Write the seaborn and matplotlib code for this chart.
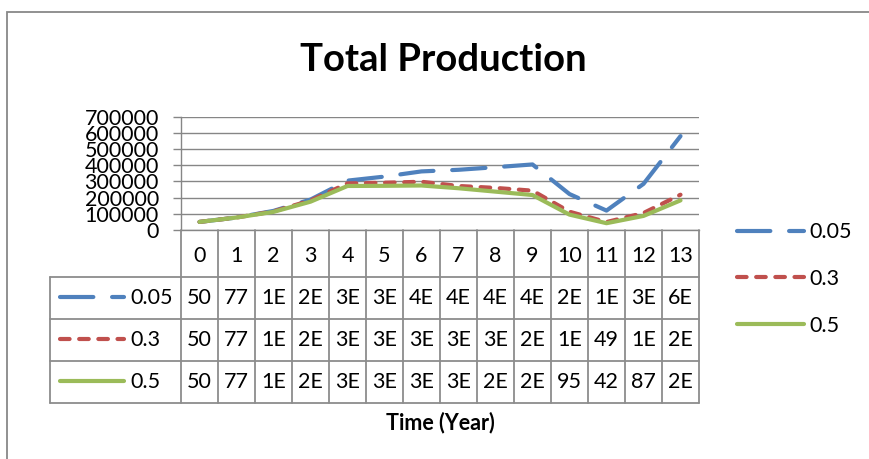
import numpy as np
import pandas as pd
import matplotlib
matplotlib.use("Agg")
import matplotlib.pyplot as plt
from matplotlib.lines import Line2D
from matplotlib.patches import Rectangle
import matplotlib.transforms as mtransforms
import seaborn as sns

# data
years = list(range(14))
rates = ["0.05", "0.3", "0.5"]
prod_005 = [50000, 77000, 118000, 188000, 305000, 330000, 362000, 372000, 388000, 405000, 222000, 120000, 285000, 580000]
prod_03 = [50000, 77000, 115000, 182000, 288000, 292000, 298000, 272000, 260000, 243000, 113000, 49000, 105000, 218000]
prod_05 = [50000, 77000, 112000, 175000, 272000, 273000, 275000, 258000, 237000, 216000, 95000, 42000, 87000, 183000]
yticks = [0, 100000, 200000, 300000, 400000, 500000, 600000, 700000]

colors = {"0.05": "#4F81BD", "0.3": "#C0504D", "0.5": "#9BBB59"}
dashes = {"0.05": (8, 4.5), "0.3": (2.3, 2.3), "0.5": ""}

df = pd.DataFrame({
    "year": years * 3,
    "value": prod_005 + prod_03 + prod_05,
    "rate": [r for r in rates for _ in years],
})

sns.set_style("white")
plt.rcParams["font.family"] = ["Lato", "DejaVu Sans"]
plt.rcParams["text.color"] = "black"
plt.rcParams["ytick.labelcolor"] = "black"

W, H = 869, 459
fig = plt.figure(figsize=(W / 100, H / 100), dpi=100)


def fx(px):
    return px / W


def fy(px):
    return 1 - px / H


grid_c = "#868686"
ax = fig.add_axes([fx(181), fy(230), fx(699) - fx(181), fy(116.7) - fy(230)])

sns.lineplot(data=df, x="year", y="value", hue="rate", style="rate",
             palette=colors, dashes=dashes, linewidth=3, legend=False,
             solid_capstyle="round", dash_capstyle="round", ax=ax)

ax.set_xlim(-0.5, 13.5)
ax.set_ylim(0, 700000)
ax.set_yticks(yticks)
ax.set_yticklabels([str(v) for v in yticks], fontsize=15.5, color="black")
ax.set_xticks([])
ax.set_xlabel("")
ax.set_ylabel("")
ax.yaxis.grid(True, color=grid_c, linewidth=1)
ax.tick_params(axis="y", length=6, width=1, color=grid_c, pad=10, direction="out", left=True)
for s in ["top", "right"]:
    ax.spines[s].set_visible(False)
for s in ["left", "bottom"]:
    ax.spines[s].set_color(grid_c)
    ax.spines[s].set_linewidth(1)

# data table below the axis
tr = mtransforms.blended_transform_factory(ax.transData, fig.transFigure)
row_lines = [277, 319, 361, 403]
row_centers = [298, 340, 382]
tab_c = "#8C8C8C"

for k in range(15):
    fig.add_artist(Line2D([k - 0.5, k - 0.5], [fy(230), fy(403)], transform=tr,
                          color=tab_c, lw=1.3))
for yl in row_lines:
    fig.add_artist(Line2D([fx(50), fx(699)], [fy(yl), fy(yl)], transform=fig.transFigure,
                          color=tab_c, lw=1.3))
fig.add_artist(Line2D([fx(50), fx(50)], [fy(277), fy(403)], transform=fig.transFigure,
                      color=tab_c, lw=1.3))

for x in years:
    fig.text(x, fy(256), str(x), transform=tr, ha="center", va="center", fontsize=15.5)


def cell(v):
    return str(v // 1000) if v < 100000 else f"{round(v / 1e5)}E"


for series, yc in zip([prod_005, prod_03, prod_05], row_centers):
    for x, v in zip(years, series):
        fig.text(x, fy(yc), cell(v), transform=tr, ha="center", va="center", fontsize=15.5)

for r, yc in zip(rates, row_centers):
    fig.add_artist(Line2D([fx(60), fx(124)], [fy(yc - 1), fy(yc - 1)], transform=fig.transFigure,
                          color=colors[r], lw=3, solid_capstyle="round", dash_capstyle="round",
                          dashes=dashes[r] if dashes[r] else (None, None)))
    fig.text(fx(130), fy(yc), r, ha="left", va="center", fontsize=15.5)

# legend on the right
handles = [Line2D([], [], color=colors[r], lw=3, solid_capstyle="round", dash_capstyle="round",
                  dashes=dashes[r] if dashes[r] else (None, None)) for r in rates]
ax.legend(handles, rates, loc="center left", bbox_to_anchor=(fx(737), fy(279)),
          bbox_transform=fig.transFigure, frameon=False, fontsize=15.5,
          handlelength=3.1, handletextpad=0.25, labelspacing=1.25,
          borderpad=0, borderaxespad=0)

fig.text(0.5 * (fx(181) + fx(699)), fy(423), "Time (Year)", ha="center", va="center",
         fontsize=15.5, fontweight="bold")
fig.text(fx(443), fy(60), "Total Production", ha="center", va="center",
         fontsize=27.5, fontweight="bold")

# outer chart frame (cropped on right and bottom)
fig.add_artist(Rectangle((fx(7), fy(470)), fx(900), fy(12) - fy(470), transform=fig.transFigure,
                         fill=False, edgecolor="#888888", lw=1.3))

fig.savefig("out.png", dpi=100)
